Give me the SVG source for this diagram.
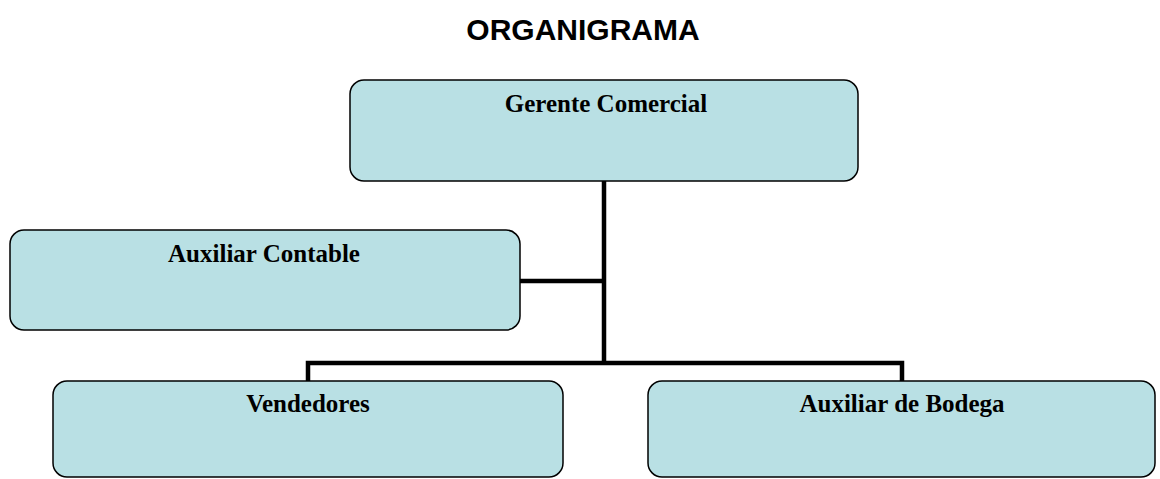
<svg xmlns="http://www.w3.org/2000/svg" width="1160" height="479" viewBox="0 0 1160 479">
<style>
.box{fill:#b9e0e4;stroke:#000;stroke-width:1.5}
.lbl{font-family:"Liberation Serif","Times New Roman",serif;font-weight:bold;font-size:25px;text-anchor:middle;fill:#000}
.conn{stroke:#000;stroke-width:4.5;fill:none}
.title{font-family:"Liberation Sans",Arial,sans-serif;font-weight:bold;font-size:30px;text-anchor:middle;fill:#000}
</style>
<rect width="1160" height="479" fill="#fff"/>
<text class="title" x="583" y="40">ORGANIGRAMA</text>
<g id="connectors">
<path class="conn" d="M604,181 V363"/>
<path class="conn" d="M520,281 H604"/>
<path class="conn" d="M308,381 V363 H902 V381"/>
</g>
<g id="gerente">
<rect class="box" x="350" y="80" width="508" height="101" rx="14"/>
<text class="lbl" x="606" y="112">Gerente Comercial</text>
</g>
<g id="contable">
<rect class="box" x="10" y="230" width="510" height="100" rx="14"/>
<text class="lbl" x="264" y="262">Auxiliar Contable</text>
</g>
<g id="vendedores">
<rect class="box" x="53" y="381" width="510" height="96" rx="14"/>
<text class="lbl" x="308" y="412">Vendedores</text>
</g>
<g id="bodega">
<rect class="box" x="648" y="381" width="507" height="96" rx="14"/>
<text class="lbl" x="902" y="412">Auxiliar de Bodega</text>
</g>
</svg>
